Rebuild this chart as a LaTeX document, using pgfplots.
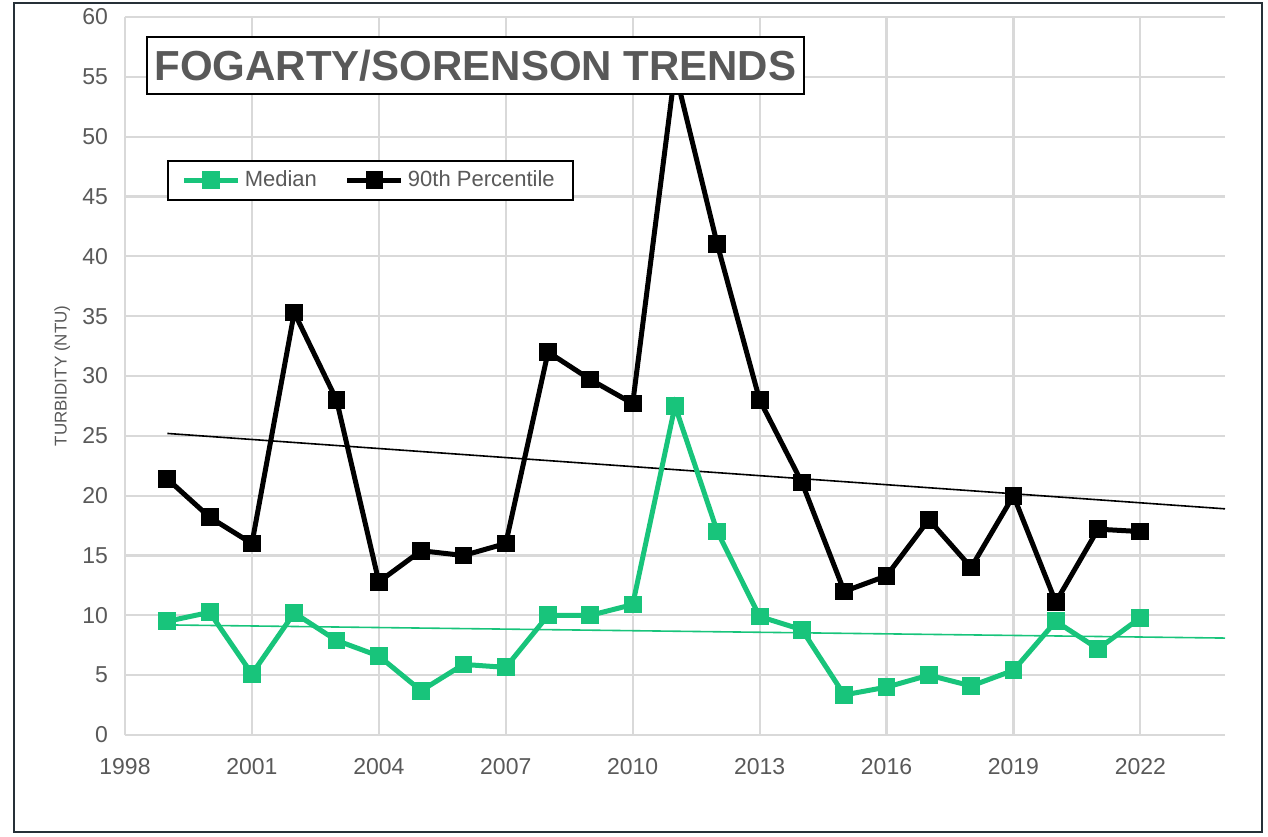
\documentclass[border=0pt]{standalone}
\usepackage{pgfplots}
\pgfplotsset{compat=1.18}
\usepackage{fontspec}
\setmainfont{Liberation Sans}

\definecolor{medgreen}{RGB}{24,196,123}
\definecolor{txtgray}{RGB}{89,89,89}
\definecolor{gridgray}{RGB}{217,217,217}
\definecolor{framecol}{RGB}{38,48,56}

\begin{document}
\begin{tikzpicture}
% page bounds and outer frame
\path (-62.5pt,-50.5pt) rectangle (571.5pt,367.5pt);
\draw[framecol, line width=1.2pt] (-55.5pt,-48.5pt) rectangle (568.5pt,366pt);

\begin{axis}[
  at={(0,0)}, anchor=south west,
  scale only axis, width=550pt, height=359pt,
  xmin=1998, xmax=2024, ymin=0, ymax=60,
  xtick={1998,2001,...,2022},
  ytick={0,5,...,60},
  grid=major,
  major grid style={gridgray, line width=1.1pt},
  axis line style={draw=none},
  tick style={draw=none},
  ticklabel style={font=\fontsize{11.5}{13}\selectfont, text=txtgray},
  /pgf/number format/assume math mode=true,
  /pgf/number format/set thousands separator={},
  xticklabel style={yshift=-8pt},
  yticklabel style={xshift=-5pt},
  ylabel={TURBIDITY (NTU)},
  ylabel style={font=\fontsize{8.5}{10}\selectfont, text=txtgray,
    at={(axis description cs:-0.057,0.5)}, anchor=center},
  legend style={at={(axis description cs:0.038,0.801)}, anchor=north west,
    draw=black, line width=1pt, legend columns=2,
    font=\fontsize{11}{13}\selectfont, text=txtgray,
    inner xsep=7pt, inner ysep=3pt,
    /tikz/every even column/.append style={column sep=12pt}},
  legend image code/.code={%
    \draw[#1, mark=none] (0pt,0pt) -- (27pt,0pt);
    \draw[#1, only marks] plot coordinates {(13.5pt,0pt)};},
]

% trend lines
\addplot[black, line width=0.8pt, forget plot] coordinates {(1999,25.2) (2024,18.9)};
\addplot[medgreen, line width=0.8pt, forget plot] coordinates {(1999,9.2) (2024,8.1)};

% Median
\addplot[medgreen, line width=2.5pt, mark=square*, mark size=4.2pt,
  mark options={line width=0.5pt}] coordinates {
  (1999,9.5) (2000,10.25) (2001,5.1) (2002,10.2) (2003,7.9) (2004,6.6)
  (2005,3.7) (2006,5.9) (2007,5.65) (2008,10.0) (2009,10.0) (2010,10.9)
  (2011,27.5) (2012,17.0) (2013,9.9) (2014,8.8) (2015,3.35) (2016,4.0)
  (2017,5.0) (2018,4.1) (2019,5.4) (2020,9.5) (2021,7.2) (2022,9.8)
};
\addlegendentry{Median}

% 90th percentile
\addplot[black, line width=2.5pt, mark=square*, mark size=4.2pt,
  mark options={line width=0.5pt}] coordinates {
  (1999,21.4) (2000,18.2) (2001,16.0) (2002,35.3) (2003,28.0) (2004,12.8)
  (2005,15.4) (2006,15.0) (2007,16.0) (2008,32.0) (2009,29.7) (2010,27.7)
  (2011,55.5) (2012,41.0) (2013,28.0) (2014,21.1) (2015,12.0) (2016,13.3)
  (2017,18.0) (2018,14.0) (2019,20.0) (2020,11.1) (2021,17.2) (2022,17.0)
};
\addlegendentry{90th Percentile}

\end{axis}

% title box
\node[draw=black, line width=1.2pt, fill=white, minimum width=328.5pt,
  minimum height=28.5pt, inner sep=0pt, text=txtgray]
  at (175.25pt,334.75pt) {\fontsize{21}{24}\selectfont\bfseries FOGARTY/SORENSON TRENDS};
\end{tikzpicture}
\end{document}
